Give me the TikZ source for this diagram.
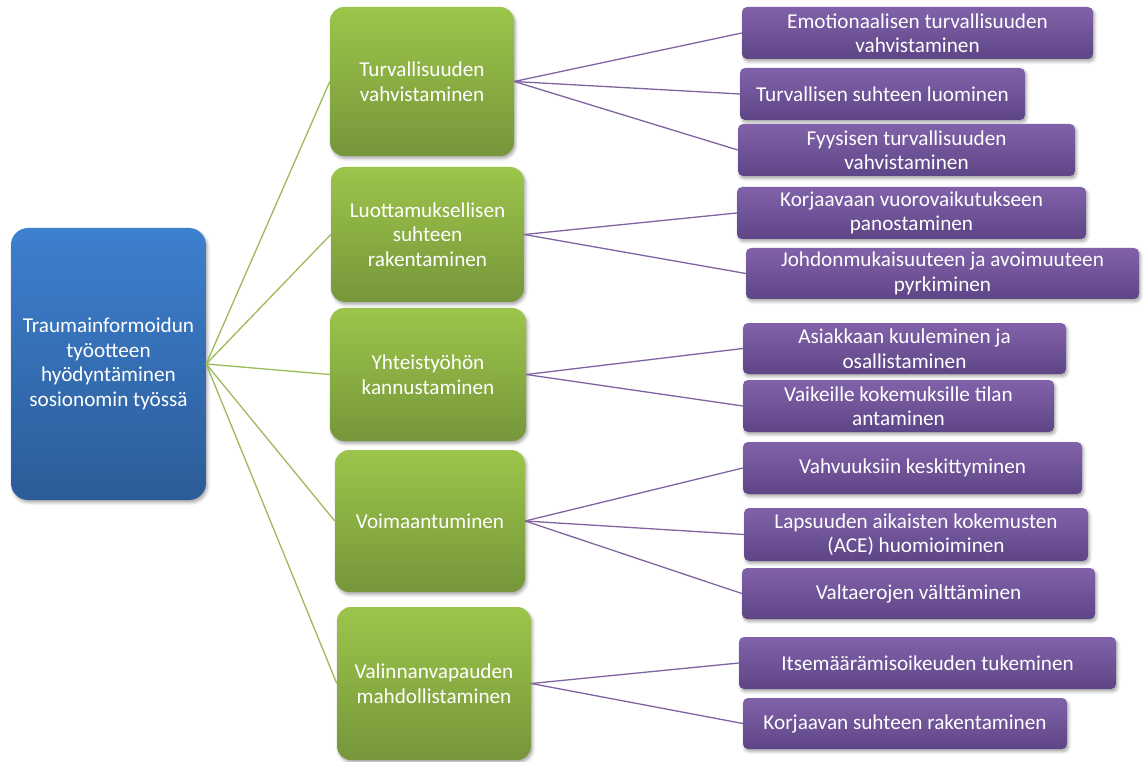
\documentclass[tikz,border=0pt]{standalone}
\usepackage{fontspec}
\setmainfont{Carlito}
\usetikzlibrary{shadows.blur}
\definecolor{blueTop}{HTML}{3D80CF}
\definecolor{blueBot}{HTML}{2C5C98}
\definecolor{greenTop}{HTML}{9CC54B}
\definecolor{greenBot}{HTML}{76963A}
\definecolor{purpleTop}{HTML}{8162AA}
\definecolor{purpleBot}{HTML}{5E4586}
\definecolor{greenLine}{HTML}{9BBB59}
\definecolor{purpleLine}{HTML}{8064A2}
\tikzset{
  box/.style={inner sep=0pt, align=center, text=white,
    font=\fontsize{21.2}{24.5}\selectfont,
    blur shadow={shadow xshift=1.5pt, shadow yshift=-2.5pt,
      shadow blur radius=3pt, shadow opacity=35}},
  rootbox/.style={box, rounded corners=17pt, top color=blueTop, bottom color=blueBot},
  topicbox/.style={box, rounded corners=14pt, top color=greenTop, bottom color=greenBot},
  leafbox/.style={box, rounded corners=5pt, top color=purpleTop, bottom color=purpleBot},
  gline/.style={draw=greenLine, line width=1.3pt},
  pline/.style={draw=purpleLine, line width=1.3pt},
}
\begin{document}
\begin{tikzpicture}[x=1pt, y=-1pt]
\useasboundingbox (0,0) rectangle (1144,762);

% root
\node[rootbox, minimum width=195pt, minimum height=272pt] (root) at (108.5,364)
  {Traumainformoidun\\työotteen\\hyödyntäminen\\sosionomin työssä};

% main themes
\node[topicbox, minimum width=184pt, minimum height=149pt] (g1) at (422,81.5)
  {Turvallisuuden\\vahvistaminen};
\node[topicbox, minimum width=193pt, minimum height=135pt] (g2) at (427.5,234.5)
  {Luottamuksellisen\\suhteen\\rakentaminen};
\node[topicbox, minimum width=196pt, minimum height=133pt] (g3) at (428,374.5)
  {Yhteistyöhön\\kannustaminen};
\node[topicbox, minimum width=190pt, minimum height=142pt] (g4) at (430,521)
  {Voimaantuminen};
\node[topicbox, minimum width=194pt, minimum height=153pt] (g5) at (434,683.5)
  {Valinnanvapauden\\mahdollistaminen};

% practices
\node[leafbox, minimum width=351pt, minimum height=52pt] (p1) at (917.5,33)
  {Emotionaalisen turvallisuuden\\vahvistaminen};
\node[leafbox, minimum width=285pt, minimum height=52pt] (p2) at (882.5,94)
  {Turvallisen suhteen luominen};
\node[leafbox, minimum width=337pt, minimum height=52pt] (p3) at (906.5,150)
  {Fyysisen turvallisuuden\\vahvistaminen};
\node[leafbox, minimum width=349pt, minimum height=52pt] (p4) at (911.5,213)
  {Korjaavaan vuorovaikutukseen\\panostaminen};
\node[leafbox, minimum width=393pt, minimum height=51pt] (p5) at (942.5,273.5)
  {Johdonmukaisuuteen ja avoimuuteen\\pyrkiminen};
\node[leafbox, minimum width=323pt, minimum height=51pt] (p6) at (904.5,348.5)
  {Asiakkaan kuuleminen ja\\osallistaminen};
\node[leafbox, minimum width=311pt, minimum height=52pt] (p7) at (898.5,406)
  {Vaikeille kokemuksille tilan\\antaminen};
\node[leafbox, minimum width=339pt, minimum height=52pt] (p8) at (912.5,468)
  {Vahvuuksiin keskittyminen};
\node[leafbox, minimum width=344pt, minimum height=53pt] (p9) at (916,534.5)
  {Lapsuuden aikaisten kokemusten\\(ACE) huomioiminen};
\node[leafbox, minimum width=353pt, minimum height=51pt] (p10) at (918.5,593.5)
  {Valtaerojen välttäminen};
\node[leafbox, minimum width=377pt, minimum height=52pt] (p11) at (927.5,663)
  {Itsemäärämisoikeuden tukeminen};
\node[leafbox, minimum width=324pt, minimum height=51pt] (p12) at (905,723.5)
  {Korjaavan suhteen rakentaminen};

% root to themes
\foreach \g in {g1,g2,g3,g4,g5}
  \draw[gline] (root.east) -- (\g.west);

% themes to practices
\draw[pline] (g1.east) -- (p1.west);
\draw[pline] (g1.east) -- (p2.west);
\draw[pline] (g1.east) -- (p3.west);
\draw[pline] (g2.east) -- (p4.west);
\draw[pline] (g2.east) -- (p5.west);
\draw[pline] (g3.east) -- (p6.west);
\draw[pline] (g3.east) -- (p7.west);
\draw[pline] (g4.east) -- (p8.west);
\draw[pline] (g4.east) -- (p9.west);
\draw[pline] (g4.east) -- (p10.west);
\draw[pline] (g5.east) -- (p11.west);
\draw[pline] (g5.east) -- (p12.west);
\end{tikzpicture}
\end{document}
